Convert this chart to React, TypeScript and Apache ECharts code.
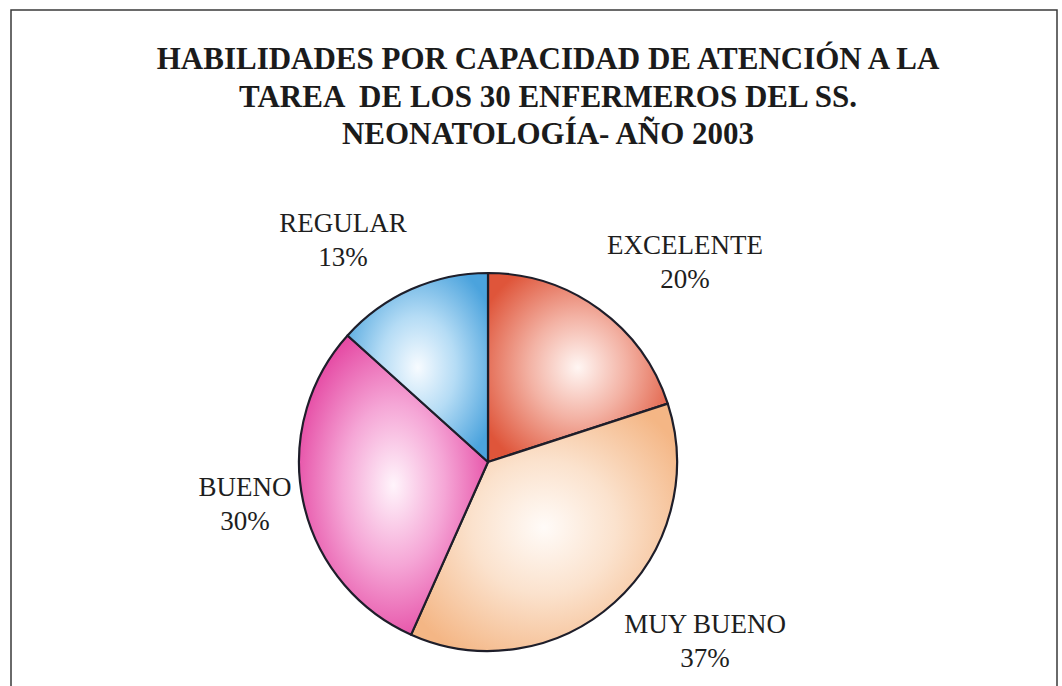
import React, { useEffect, useRef } from "react";
import * as echarts from "echarts";

const categories = ["EXCELENTE", "MUY BUENO", "BUENO", "REGULAR"];
const counts = [6, 11, 9, 4];
const titleLines = [
  "HABILIDADES POR CAPACIDAD DE ATENCIÓN A LA",
  "TAREA  DE LOS 30 ENFERMEROS DEL SS.",
  "NEONATOLOGÍA- AÑO 2003",
];

const sliceColors = [
  ["#fff6f3", "#f3b2a4", "#df553a"],
  ["#fffbf8", "#fbe2cd", "#f4b685"],
  ["#fff4fb", "#f5a6d6", "#e2389a"],
  ["#f7fbff", "#b5dcf5", "#4ba3dd"],
];

// label offsets from the pie centre, in pixels
const labelOffsets = [
  [197, -200],
  [217, 179],
  [-243, 42],
  [-145, -222],
];

const CX = 488;
const CY = 462;
const R = 189;

export default function App() {
  const ref = useRef<HTMLDivElement>(null);
  useEffect(() => {
    document.body.style.margin = "0";
    const chart = echarts.init(ref.current!, null, { renderer: "svg" });
    const font = "'Liberation Serif', 'Times New Roman', serif";
    chart.setOption({
      animation: false,
      backgroundColor: "#ffffff",
      title: {
        text: titleLines.join("\n"),
        left: 543,
        top: 35,
        textAlign: "center",
        textStyle: {
          fontFamily: font,
          fontWeight: "bold",
          fontSize: 31,
          lineHeight: 37.5,
          color: "#1b1b1b",
        },
      },
      graphic: [
        {
          type: "rect",
          shape: { x: 11, y: 10, width: 1046, height: 720 },
          style: { fill: "none", stroke: "#3a3a3a", lineWidth: 1.5 },
          silent: true,
        },
      ],
      series: [
        {
          type: "pie",
          center: [CX, CY],
          radius: R,
          startAngle: 90,
          clockwise: true,
          percentPrecision: 0,
          data: categories.map((name, i) => ({
            name,
            value: counts[i],
            itemStyle: {
              color: {
                type: "radial",
                x: 0.5,
                y: 0.5,
                r: 0.6,
                colorStops: [
                  { offset: 0, color: sliceColors[i][0] },
                  { offset: 0.45, color: sliceColors[i][1] },
                  { offset: 1, color: sliceColors[i][2] },
                ],
              },
            },
          })),
          itemStyle: { borderColor: "#1e1e2a", borderWidth: 2.2 },
          label: {
            show: true,
            position: "outside",
            formatter: "{b}\n{d}%",
            fontFamily: font,
            fontSize: 27,
            lineHeight: 34,
            color: "#1e1e1e",
            align: "center",
          },
          labelLine: { show: false },
          labelLayout: (params: any) => {
            const o = labelOffsets[params.dataIndex];
            return {
              x: CX + o[0],
              y: CY + o[1],
              align: "center",
              verticalAlign: "middle",
            };
          },
          emphasis: { disabled: true },
        },
      ],
    });
    return () => chart.dispose();
  }, []);
  return <div ref={ref} style={{ width: 1062, height: 686 }} />;
}
